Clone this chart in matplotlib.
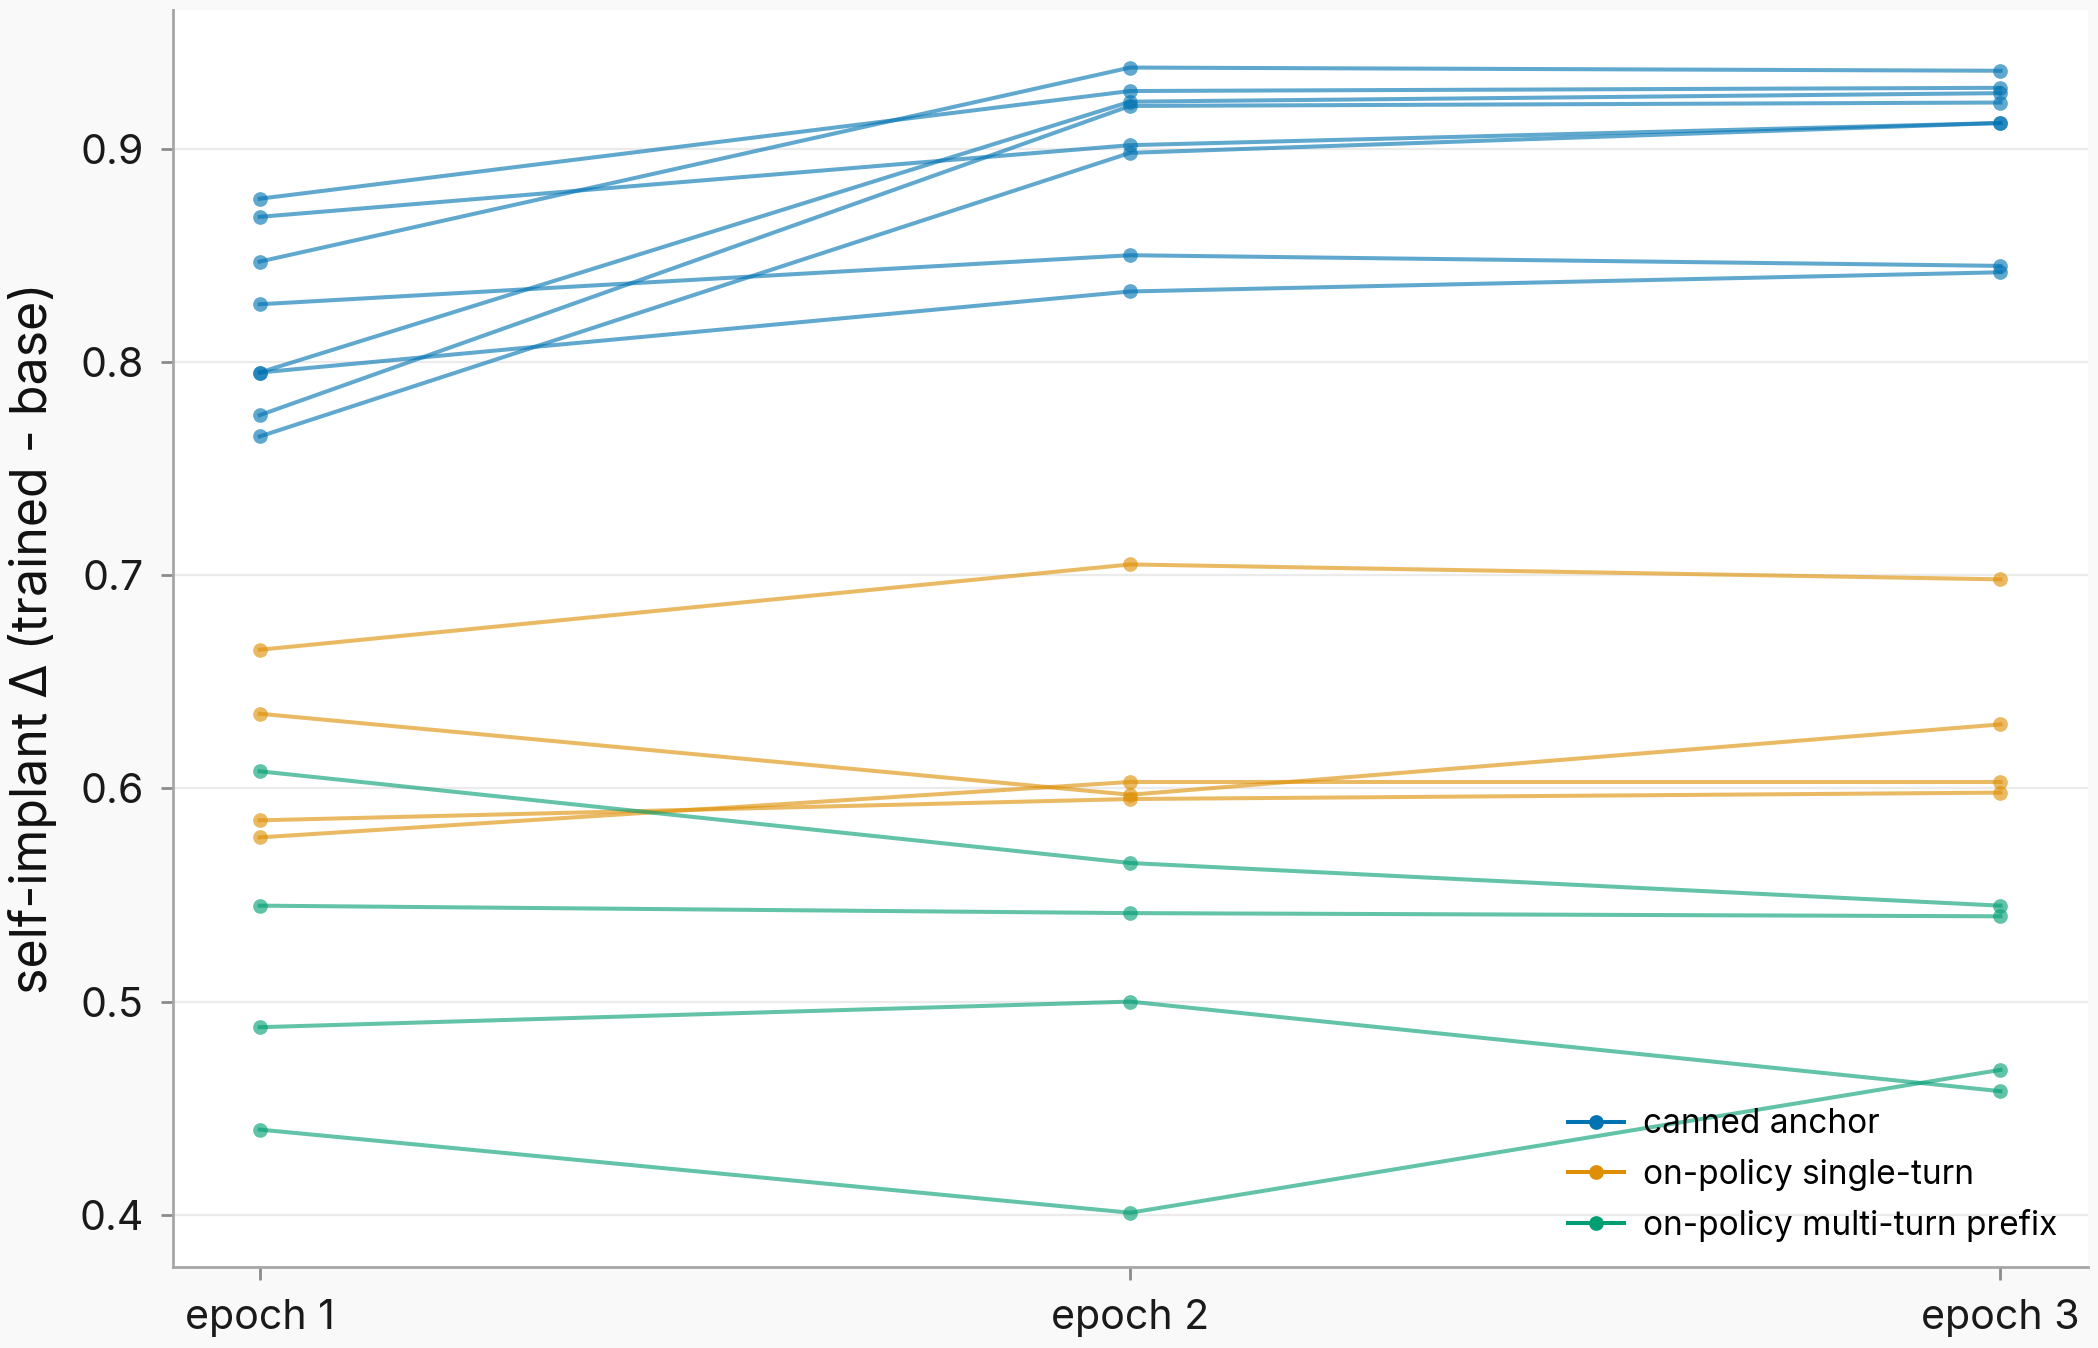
import matplotlib
matplotlib.use("Agg")
import matplotlib.pyplot as plt
from matplotlib.lines import Line2D

plt.rcParams['font.family'] = ['Inter', 'DejaVu Sans']

epochs = ["epoch 1", "epoch 2", "epoch 3"]

canned_anchor = [
    [0.8765, 0.927, 0.9285],
    [0.868, 0.9016, 0.912],
    [0.847, 0.938, 0.9365],
    [0.827, 0.850, 0.845],
    [0.795, 0.833, 0.842],
    [0.795, 0.922, 0.926],
    [0.775, 0.920, 0.9216],
    [0.765, 0.898, 0.912],
]
single_turn = [
    [0.665, 0.705, 0.698],
    [0.635, 0.597, 0.630],
    [0.585, 0.595, 0.598],
    [0.577, 0.603, 0.603],
]
multi_turn = [
    [0.608, 0.565, 0.545],
    [0.545, 0.5415, 0.540],
    [0.488, 0.500, 0.458],
    [0.440, 0.401, 0.468],
]

groups = [
    ("canned anchor", canned_anchor, "#0173b2"),
    ("on-policy single-turn", single_turn, "#de8f05"),
    ("on-policy multi-turn prefix", multi_turn, "#029e73"),
]

fig = plt.figure(figsize=(10.49, 6.74), dpi=200, facecolor="#f9f9f9")
ax = fig.add_axes([0.0823, 0.060, 0.9127, 0.9326])
ax.set_facecolor("white")

x = list(range(len(epochs)))
for name, runs, color in groups:
    for run in runs:
        ax.plot(x, run, color=color, alpha=0.62, lw=1.45, marker="o", ms=5.3,
                markeredgewidth=0, zorder=3)

ax.set_xlim(-0.1, 2.1)
ax.set_ylim(0.3755, 0.965)
ax.set_xticks(x)
ax.set_xticklabels(epochs)
ax.set_yticks([0.4, 0.5, 0.6, 0.7, 0.8, 0.9])
ax.set_yticklabels(["0.4", "0.5", "0.6", "0.7", "0.8", "0.9"])
ax.grid(axis="y", color="#ebebeb", lw=0.8, zorder=0)
ax.set_axisbelow(True)

for s in ["top", "right"]:
    ax.spines[s].set_visible(False)
for s in ["left", "bottom"]:
    ax.spines[s].set_color("#a6a6a6")
    ax.spines[s].set_linewidth(1.0)

ax.tick_params(axis="both", colors="#8c8c8c", labelcolor="#1a1a1a",
               labelsize=14.8, length=4.5, width=1.0)
ax.tick_params(axis="x", pad=7)
ax.tick_params(axis="y", pad=6)
ax.set_ylabel("self-implant Δ (trained - base)", fontsize=18, color="#111111",
              labelpad=8)

handles = [Line2D([0], [0], color=c, marker="o", ms=5.3, markeredgewidth=0,
                  lw=1.45) for _, _, c in groups]
labels = [n for n, _, _ in groups]
ax.legend(handles, labels, loc="lower right", frameon=False, fontsize=12,
          handlelength=1.7, handletextpad=0.56, labelspacing=0.55,
          bbox_to_anchor=(1.0, -0.004))

fig.savefig("out.png", dpi=200, facecolor=fig.get_facecolor())
